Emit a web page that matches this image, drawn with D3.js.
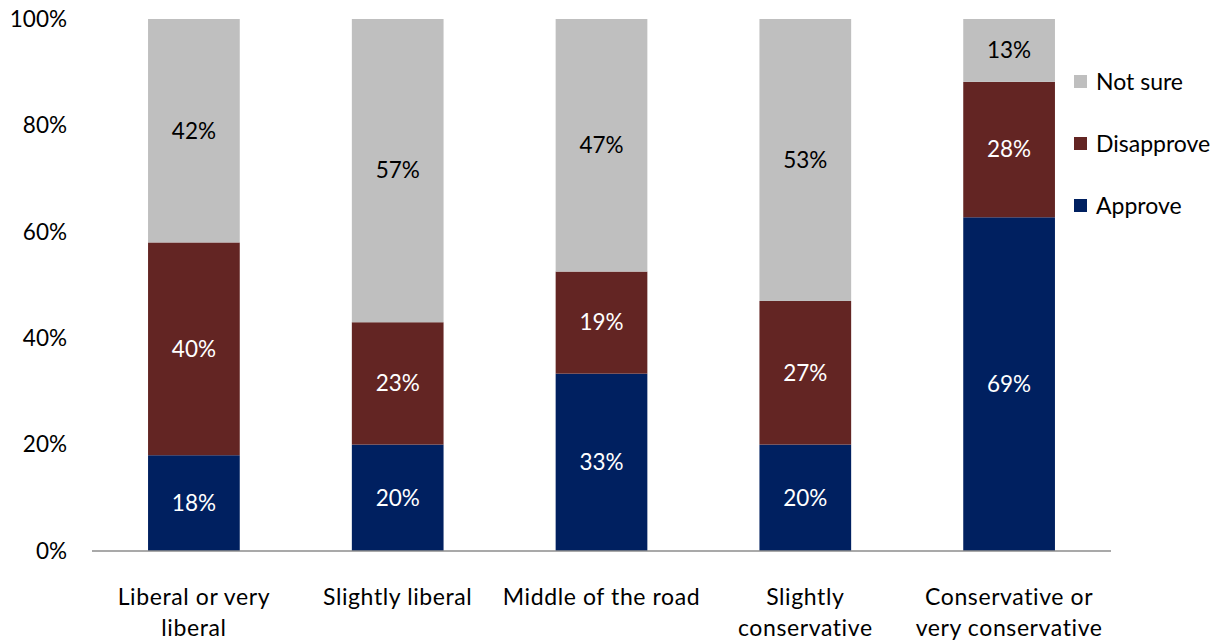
<!DOCTYPE html>
<html>
<head>
<meta charset="utf-8">
<script src="https://cdn.jsdelivr.net/npm/d3@7/dist/d3.min.js"></script>
<style>
  html, body { margin: 0; padding: 0; background: #fff; }
  svg { display: block; font-family: "Lato", "Open Sans", sans-serif; }
</style>
</head>
<body>
<svg id="chart" width="1221" height="642"></svg>
<script>
// Survey responses by ideology (percent as reported)
const categories = [
  ["Liberal or very", "liberal"],
  ["Slightly liberal"],
  ["Middle of the road"],
  ["Slightly", "conservative"],
  ["Conservative or", "very conservative"]
];
const seriesNames = ["Approve", "Disapprove", "Not sure"];
const approve    = [18, 20, 33, 20, 69];
const disapprove = [40, 23, 19, 27, 28];
const notSure    = [42, 57, 47, 53, 13];
const yTicks = [0, 0.2, 0.4, 0.6, 0.8, 1.0];
const colors = ["#002060", "#632523", "#bfbfbf"];
const labelColors = ["#ffffff", "#ffffff", "#000000"];

const rows = categories.map((c, i) => ({
  key: i,
  "Approve": approve[i],
  "Disapprove": disapprove[i],
  "Not sure": notSure[i]
}));

const svg = d3.select("#chart");
const margin = { left: 92, right: 110, top: 19, bottom: 91 };
const W = 1221, H = 642;

const x = d3.scaleBand()
  .domain(rows.map(d => d.key))
  .range([margin.left, W - margin.right])
  .paddingInner(0.55)
  .paddingOuter(0.275);

const y = d3.scaleLinear().domain([0, 1]).range([H - margin.bottom, margin.top]);

const stack = d3.stack().keys(seriesNames).offset(d3.stackOffsetExpand);
const layers = stack(rows);

const color = d3.scaleOrdinal().domain(seriesNames).range(colors);

// stacked segments
const g = svg.append("g");
layers.forEach((layer, li) => {
  g.append("g").selectAll("rect")
    .data(layer)
    .join("rect")
    .attr("x", d => x(d.data.key))
    .attr("width", x.bandwidth())
    .attr("y", d => y(d[1]))
    .attr("height", d => y(d[0]) - y(d[1]))
    .attr("fill", color(layer.key));

  g.append("g").selectAll("text")
    .data(layer)
    .join("text")
    .attr("x", d => x(d.data.key) + x.bandwidth() / 2)
    .attr("y", d => (y(d[0]) + y(d[1])) / 2)
    .attr("dy", "0.35em")
    .attr("text-anchor", "middle")
    .attr("font-size", 22.5)
    .attr("fill", labelColors[li])
    .text(d => d.data[layer.key] + "%");
});

// y axis labels (no axis line)
const yAxis = d3.axisLeft(y).tickValues(yTicks).tickFormat(d3.format(".0%")).tickSize(0).tickPadding(0);
const ya = svg.append("g").attr("transform", "translate(67,0)").call(yAxis);
ya.select(".domain").remove();
ya.selectAll("text").attr("font-size", 22.5).attr("fill", "#000").attr("font-family", "Lato, 'Open Sans', sans-serif");

// x baseline
svg.append("line")
  .attr("x1", margin.left).attr("x2", W - margin.right)
  .attr("y1", y(0)).attr("y2", y(0))
  .attr("stroke", "#8c8c8c").attr("stroke-width", 1.5);

// category labels
const cl = svg.append("g").selectAll("text")
  .data(rows)
  .join("text")
  .attr("x", d => x(d.key) + x.bandwidth() / 2)
  .attr("y", 605)
  .attr("text-anchor", "middle")
  .attr("font-size", 23)
  .attr("letter-spacing", 0.6)
  .attr("fill", "#000");
cl.each(function(d, i) {
  d3.select(this).selectAll("tspan")
    .data(categories[i])
    .join("tspan")
    .attr("x", x(d.key) + x.bandwidth() / 2)
    .attr("dy", (t, j) => j === 0 ? 0 : 31)
    .text(t => t);
});

// legend, top-to-bottom in reverse stack order
const legendItems = seriesNames.slice().reverse();
const lg = svg.append("g").attr("transform", "translate(1074,75)");
const li = lg.selectAll("g").data(legendItems).join("g")
  .attr("transform", (d, i) => `translate(0,${i * 62})`);
li.append("rect").attr("width", 13).attr("height", 13).attr("fill", d => color(d));
li.append("text").attr("x", 22).attr("y", 6.5).attr("dy", "0.35em")
  .attr("font-size", 23).attr("fill", "#000").text(d => d);
</script>
</body>
</html>
